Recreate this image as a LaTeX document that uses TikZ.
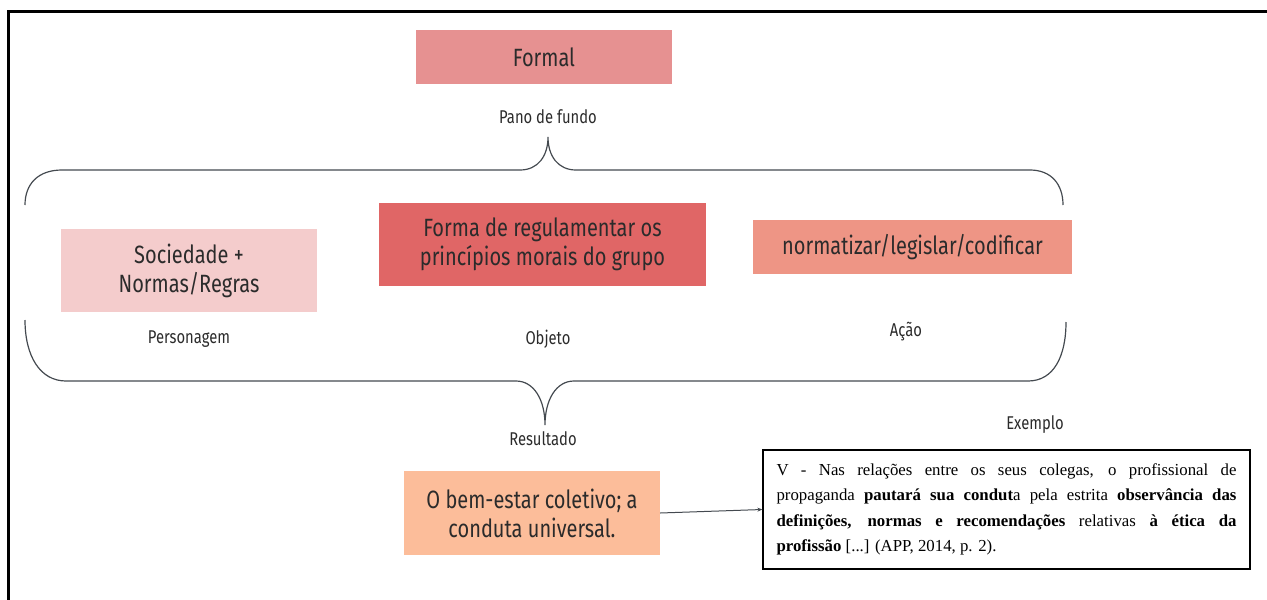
\documentclass[tikz,border=0pt]{standalone}
\usepackage{fontspec}
\setmainfont[FakeStretch=0.8]{Fira Sans}
\newfontfamily\quotefont{Liberation Serif}
\usetikzlibrary{arrows.meta}
\definecolor{formalc}{HTML}{E69191}
\definecolor{socc}{HTML}{F4CCCC}
\definecolor{formac}{HTML}{E06666}
\definecolor{normc}{HTML}{EE9585}
\definecolor{resc}{HTML}{FCBD9A}
\definecolor{ink}{HTML}{2B2B2B}
\definecolor{bracec}{HTML}{444A50}
\tikzset{
  cbox/.style={fill=#1, draw=none, inner sep=0pt, align=center, text=ink,
    font=\fontsize{25}{29}\selectfont},
  lbl/.style={text=ink, inner sep=0pt, font=\fontsize{18.5}{20}\selectfont},
  bracel/.style={draw=bracec, line width=1.2pt},
}
\begin{document}
\begin{tikzpicture}[x=1pt, y=-1pt]
\useasboundingbox (0,0) rectangle (1267,600);
% frame
\draw[line width=3pt, black] (8,600) -- (8,11) -- (1268,11);

% boxes
\node[cbox=formalc, minimum width=256pt, minimum height=54pt] (formal) at (544,57) {Formal};
\node[cbox=socc, minimum width=256pt, minimum height=83pt] (soc) at (189,270.5) {Sociedade +\\Normas/Regras};
\node[cbox=formac, minimum width=327pt, minimum height=83pt] (forma) at (542.5,244.5) {Forma de regulamentar os\\princípios morais do grupo};
\node[cbox=normc, minimum width=319pt, minimum height=54pt] (norm) at (912.5,247) {normatizar/legislar/codificar};
\node[cbox=resc, minimum width=256pt, minimum height=84pt] (res) at (532,513) {O bem-estar coletivo; a\\conduta universal.};

% labels
\node[lbl] (pano) at (548,117) {Pano de fundo};
\node[lbl] (pers) at (189,339) {Personagem};
\node[lbl] (obj) at (548,339) {Objeto};
\node[lbl] (acao) at (906,332) {Ação};
\node[lbl] (resul) at (543,439) {Resultado};
\node[lbl] (exem) at (1035,425) {Exemplo};

% quote
\node[draw=black, line width=1.3pt, minimum width=487pt, minimum height=119pt, inner sep=0pt] (quote) at (1006.5,509.5) {%
  \parbox{460pt}{\quotefont\fontsize{16.8}{25.5}\selectfont
  V - Nas relações entre os seus colegas, o profissional de\linebreak
  propaganda \textbf{pautará sua condut}a pela estrita \textbf{observância das}\linebreak
  \textbf{definições, normas e recomendações} relativas \textbf{à ética da}\linebreak
  \textbf{profissão} [...] (APP, 2014, p. 2).}};

% braces
\coordinate (ttip) at (548,137);
\coordinate (btip) at (545,425);
\draw[bracel] (25,205) .. controls (25,184) and (38,170) .. (62,170) -- (520,170)
  .. controls (538,170) and (548,156) .. (ttip)
  .. controls (548,156) and (558,170) .. (576,170) -- (1030,170)
  .. controls (1051,170) and (1063,184) .. (1063,205);
\draw[bracel] (25,320) .. controls (25,356) and (40,381) .. (66,381) -- (516,381)
  .. controls (534,381) and (545,400) .. (btip)
  .. controls (545,400) and (556,381) .. (574,381) -- (1028,381)
  .. controls (1054,381) and (1066,356) .. (1066,322);

% connector
\draw[draw=bracec, line width=1pt, -{Stealth[length=5pt,width=4pt]}] (res.east) -- (quote.west);
\end{tikzpicture}
\end{document}
